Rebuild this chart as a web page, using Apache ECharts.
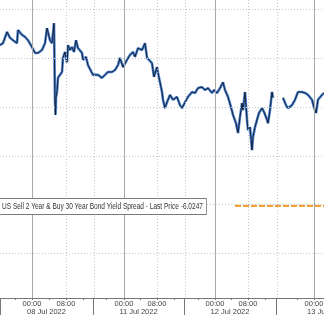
<!DOCTYPE html>
<html>
<head>
<meta charset="utf-8">
<script src="https://cdn.jsdelivr.net/npm/echarts@6/dist/echarts.min.js"></script>
<style>
html,body{margin:0;padding:0;background:#fff;}
#chart{width:324px;height:315px;}
</style>
</head>
<body>
<div id="chart"></div>
<script>
// Compressed trading timeline position (intraday bars) and spread values
const timeline = [0,3,7,10,13,17,18,22,25,28,32,35,38,42,45,47,50,52,54,55,55.5,56,57,58,60,62,63,65,67,68,70,72,74,76,78,80,82,83,86,88,90,93,95,98,102,105,108,112,115,118,120,123,127,130,133,135,138,142,145,147,149,152,154,157,158,160,162,163,165,167,170,173,177,180,182,185,188,192,195,198,202,205,208,212,214,217,220,223,225,228,231,233,236,238,240,242,243,245,247,248,250,252,253,255,257,259,262,264,267,268,270,272,273,278,283,286,288,292,295,298,302,305,308,312,314,316,318,322,324];
const spread = [-2.73,-2.69,-2.46,-2.58,-2.63,-2.69,-2.42,-2.52,-2.56,-2.63,-2.77,-2.89,-2.89,-2.83,-2.69,-2.38,-2.63,-2.69,-2.28,-3.90,-4.16,-3.80,-3.69,-3.40,-3.44,-3.28,-2.99,-2.87,-3.08,-2.73,-2.83,-2.77,-2.87,-2.63,-2.79,-2.77,-2.89,-3.03,-2.97,-3.14,-3.18,-3.34,-3.30,-3.34,-3.40,-3.34,-3.28,-3.28,-3.24,-3.14,-2.99,-3.18,-3.03,-2.93,-2.87,-2.97,-2.79,-2.83,-2.69,-2.99,-2.97,-3.10,-3.38,-3.18,-3.30,-3.49,-3.69,-3.85,-4.02,-3.90,-3.75,-3.85,-3.79,-3.96,-4.02,-3.90,-3.79,-3.69,-3.71,-3.61,-3.59,-3.65,-3.61,-3.71,-3.65,-3.71,-3.61,-3.49,-3.65,-3.79,-4.00,-4.16,-4.33,-4.53,-4.20,-3.92,-4.06,-3.69,-4.26,-4.47,-4.41,-4.88,-4.61,-4.41,-4.26,-4.12,-4.02,-4.10,-4.26,-4.33,-4.06,-3.69,-3.81,null,-3.81,-3.96,-4.02,-3.96,-3.85,-3.69,-3.69,-3.71,-3.75,-3.85,-4.00,-4.12,-3.85,-3.75,-3.71];

const seriesName = 'US Sell 2 Year & Buy 30 Year Bond Yield Spread';
const lastPrice = -6.0247;
const lastPriceFrom = 235;

// Axis ticks
const hourTickPos = [32,66,124,157,215,248,314];
const hourTickLabels = ['00:00','08:00','00:00','08:00','00:00','08:00','00:00'];
const minorTickPos = [15,32,49,66,83,106,124,140,157,174,198,215,231,248,265,297,314];
const sessionBounds = [0,93,184,276];
const sessionDatePos = [46.5,138.5,230];
const sessionDateLabels = ['08 Jul 2022','11 Jul 2022','12 Jul 2022'];
const lastDatePos = [307];
const lastDateLabels = ['13 Jul 2022'];
const midnightLines = [32,124,215,314];
const dottedVLines = [66,157,248,94,185,277];
const yGridValues = [-2,-3,-4,-5,-6,-7];

const X_MIN = 0, X_MAX = 324;
const Y_MIN = -7.912, Y_MAX = -1.805;

const FONT = '"Liberation Sans","DejaVu Sans",sans-serif';

const pairs = timeline.map((t, i) => [t, spread[i] === null ? '-' : spread[i]]);

const chart = echarts.init(document.getElementById('chart'), null, {renderer: 'canvas'});

const baseX = {
  type: 'value', min: X_MIN, max: X_MAX, gridIndex: 0,
  splitLine: {show: false}
};

const option = {
  animation: false,
  backgroundColor: '#ffffff',
  textStyle: {fontFamily: FONT},
  graphic: [{
    type: 'text', x: -1, y: 199, scaleX: 0.77, z: 100,
    style: {
      text: seriesName + ' - Last Price ' + lastPrice.toFixed(4),
      fontSize: 8.5, fontFamily: FONT, fill: '#333',
      backgroundColor: '#ffffff', borderColor: '#7a7a7a', borderWidth: 1,
      padding: [3, 4, 2, 4], lineHeight: 10
    }
  }],
  grid: {left: 0, right: 0, top: 0, bottom: 17, containLabel: false, outerBoundsMode: 'none'},
  xAxis: [
    Object.assign({}, baseX, {
      position: 'bottom',
      axisLine: {show: true, onZero: false, lineStyle: {color: '#777', width: 1}},
      axisTick: {show: true, length: 2, customValues: minorTickPos, lineStyle: {color: '#777'}},
      axisLabel: {
        show: true, customValues: hourTickPos, margin: 2,
        fontSize: 7.5, color: '#444', fontFamily: FONT,
        formatter: v => hourTickLabels[hourTickPos.indexOf(v)]
      }
    }),
    Object.assign({}, baseX, {
      position: 'bottom',
      axisLine: {show: false, onZero: false},
      axisTick: {show: true, length: 18, customValues: sessionBounds, lineStyle: {color: '#777'}},
      axisLabel: {
        show: true, customValues: sessionDatePos, margin: 10,
        fontSize: 7.5, color: '#444', fontFamily: FONT,
        formatter: v => sessionDateLabels[sessionDatePos.indexOf(v)]
      }
    }),
    Object.assign({}, baseX, {
      position: 'bottom',
      axisLine: {show: false, onZero: false},
      axisTick: {show: false},
      axisLabel: {
        show: true, customValues: lastDatePos, margin: 10, align: 'left',
        fontSize: 7.5, color: '#444', fontFamily: FONT,
        formatter: v => lastDateLabels[lastDatePos.indexOf(v)]
      }
    })
  ],
  yAxis: {
    type: 'value', min: Y_MIN, max: Y_MAX, show: false,
    splitLine: {show: false}
  },
  series: [
    {
      name: 'grid', type: 'line', z: 1, data: pairs, showSymbol: false, silent: true,
      lineStyle: {opacity: 0}, itemStyle: {opacity: 0},
      markLine: {
        silent: true, symbol: 'none', animation: false,
        label: {show: false},
        data: [].concat(
          yGridValues.map(v => ({yAxis: v, lineStyle: {type: [1, 2], color: '#c4c4c4', width: 1}})),
          dottedVLines.map(v => ({xAxis: v, lineStyle: {type: [1, 2], color: '#c4c4c4', width: 1}})),
          midnightLines.map(v => ({xAxis: v, lineStyle: {type: 'solid', color: '#a8a8a8', width: 1}}))
        )
      }
    },
    {
      name: seriesName + ' outline', type: 'line', z: 3, data: pairs, showSymbol: false,
      connectNulls: false,
      lineStyle: {color: '#4a82cf', width: 2.6}
    },
    {
      name: seriesName, type: 'line', z: 4, data: pairs, showSymbol: false,
      connectNulls: false,
      lineStyle: {color: '#10182a', width: 0.9}
    },
    {
      name: 'Last Price', type: 'line', z: 4, showSymbol: false,
      data: [[lastPriceFrom, lastPrice], [X_MAX, lastPrice]],
      lineStyle: {color: '#f3a236', width: 2.2, type: [6, 2]}
    }
  ]
};
chart.setOption(option);
</script>
</body>
</html>
